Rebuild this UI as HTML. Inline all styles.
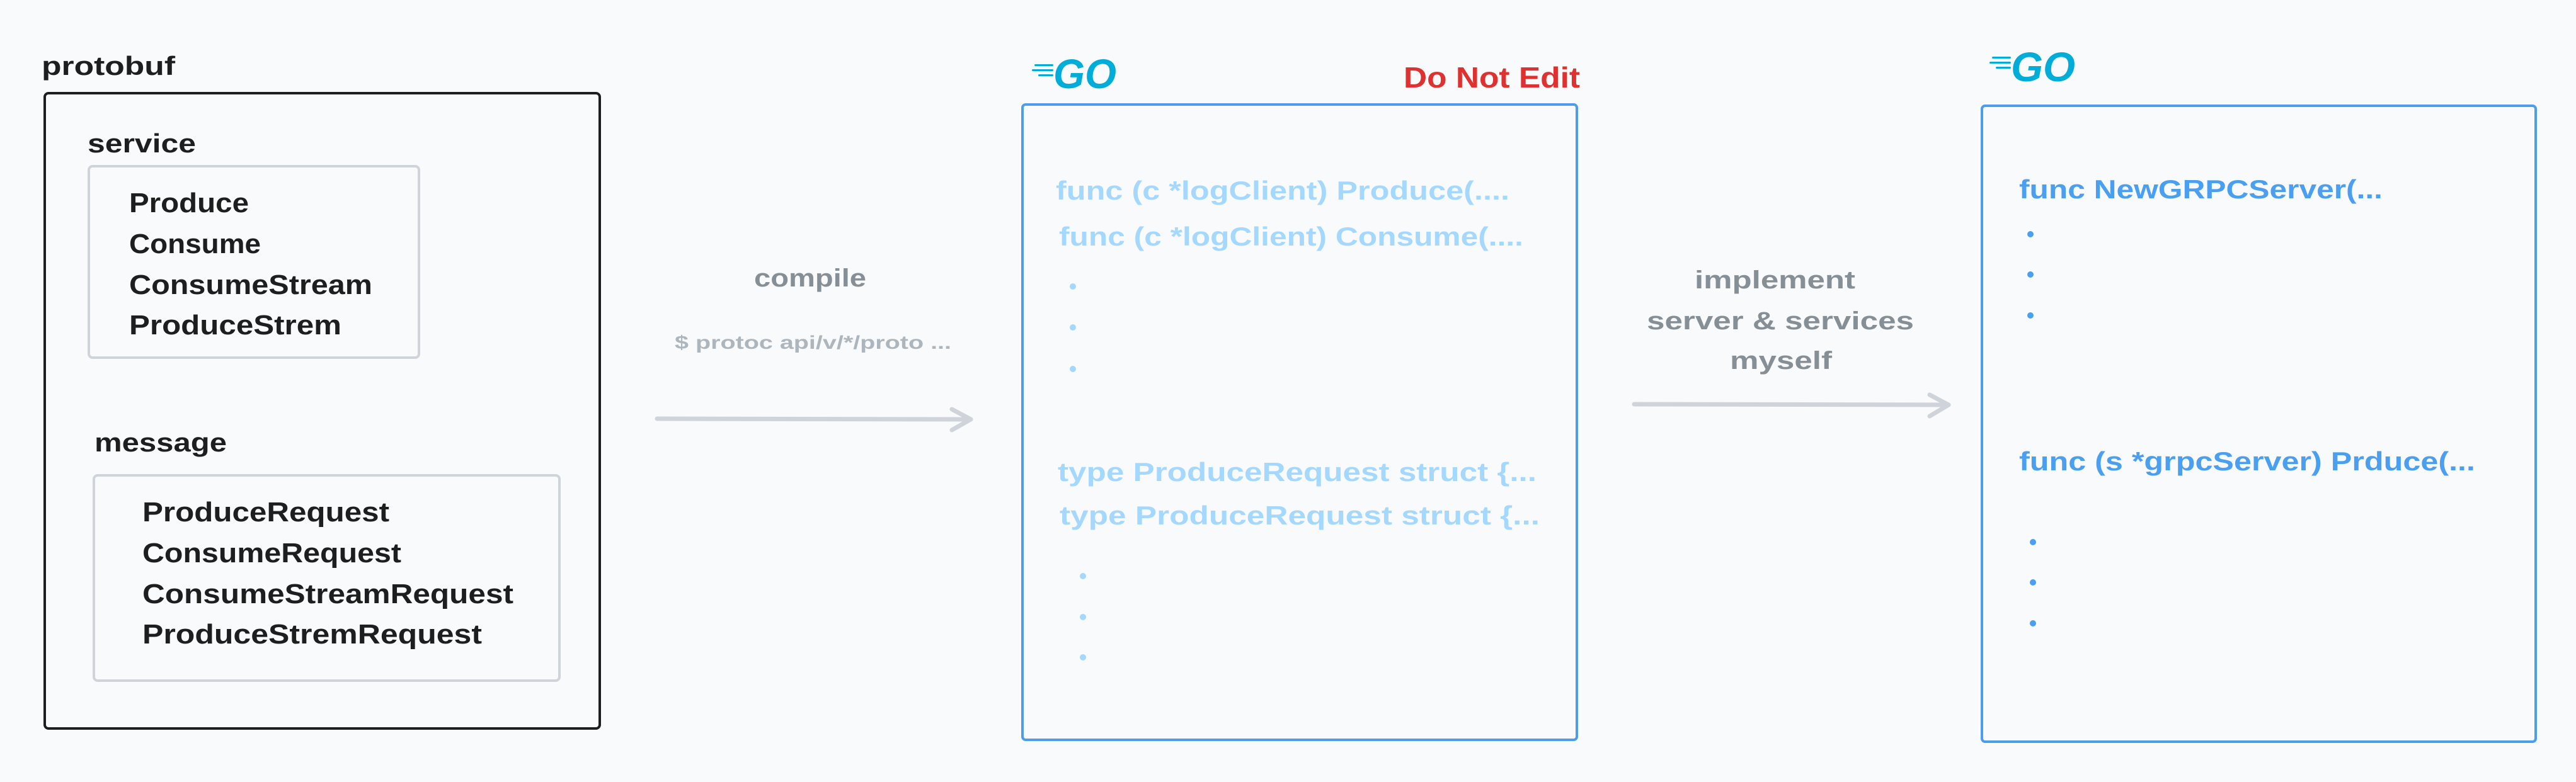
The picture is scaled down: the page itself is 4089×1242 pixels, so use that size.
<!DOCTYPE html>
<html><head><meta charset="utf-8"><style>
html,body{margin:0;padding:0;background:#f9fafb;}
svg{display:block;}
text{font-family:"Liberation Sans",sans-serif;font-weight:bold;}
</style></head><body>
<svg width="4089" height="1242" viewBox="0 0 4089 1242" xmlns="http://www.w3.org/2000/svg">
<rect width="4089" height="1242" fill="#f9fafb"/>

<!-- protobuf -->
<text x="66" y="119" font-size="42" fill="#1e1e1e" textLength="212" lengthAdjust="spacingAndGlyphs">protobuf</text>
<rect x="71" y="148" width="881" height="1009" rx="6" fill="none" stroke="#1e1e1e" stroke-width="4"/>

<text x="139" y="242" font-size="42" fill="#1e1e1e" textLength="172" lengthAdjust="spacingAndGlyphs">service</text>
<rect x="141" y="264" width="524" height="304" rx="6" fill="none" stroke="#ced4da" stroke-width="4"/>
<g font-size="44" fill="#1e1e1e">
<text x="205" y="337" textLength="190" lengthAdjust="spacingAndGlyphs">Produce</text>
<text x="205" y="402" textLength="209" lengthAdjust="spacingAndGlyphs">Consume</text>
<text x="205" y="467" textLength="386" lengthAdjust="spacingAndGlyphs">ConsumeStream</text>
<text x="205" y="531" textLength="337" lengthAdjust="spacingAndGlyphs">ProduceStrem</text>
</g>

<text x="150" y="717" font-size="42" fill="#1e1e1e" textLength="210" lengthAdjust="spacingAndGlyphs">message</text>
<rect x="149" y="755" width="739" height="326" rx="6" fill="none" stroke="#ced4da" stroke-width="4"/>
<g font-size="44" fill="#1e1e1e">
<text x="226" y="828" textLength="392" lengthAdjust="spacingAndGlyphs">ProduceRequest</text>
<text x="226" y="893" textLength="411" lengthAdjust="spacingAndGlyphs">ConsumeRequest</text>
<text x="226" y="958" textLength="589" lengthAdjust="spacingAndGlyphs">ConsumeStreamRequest</text>
<text x="226" y="1022" textLength="539" lengthAdjust="spacingAndGlyphs">ProduceStremRequest</text>
</g>

<!-- compile arrow -->
<text x="1197" y="455" font-size="40" fill="#868e96" textLength="178" lengthAdjust="spacingAndGlyphs">compile</text>
<text x="1071" y="554" font-size="30" fill="#adb5bd" textLength="439" lengthAdjust="spacingAndGlyphs">$ protoc api/v/*/proto ...</text>
<g stroke="#ced4da" stroke-width="7" stroke-linecap="round" stroke-linejoin="round" fill="none">
<path d="M1043 665 L1541 666"/>
<path d="M1511 650 L1541 666 L1511 683"/>
</g>

<!-- Go logo 1 -->
<g fill="#00add8">
<rect x="1642" y="102" width="30" height="3" rx="1.5"/>
<rect x="1638" y="110" width="34" height="3" rx="1.5"/>
<rect x="1648" y="118" width="24" height="3" rx="1.5"/>
<text x="1672" y="140" font-size="66" font-style="italic" font-weight="900" textLength="100" lengthAdjust="spacingAndGlyphs">GO</text>
</g>
<text x="2228" y="139" font-size="46" fill="#e03131" textLength="280" lengthAdjust="spacingAndGlyphs">Do Not Edit</text>

<!-- box 2 -->
<rect x="1623" y="166" width="880" height="1009" rx="5" fill="none" stroke="#4a9eed" stroke-width="4"/>
<g font-size="42" fill="#a5d8ff">
<text x="1676" y="317" textLength="720" lengthAdjust="spacingAndGlyphs">func (c *logClient) Produce(....</text>
<text x="1681" y="390" textLength="737" lengthAdjust="spacingAndGlyphs">func (c *logClient) Consume(....</text>
<text x="1679" y="764" textLength="760" lengthAdjust="spacingAndGlyphs">type ProduceRequest struct {...</text>
<text x="1682" y="833" textLength="762" lengthAdjust="spacingAndGlyphs">type ProduceRequest struct {...</text>
</g>
<g fill="#a5d8ff">
<circle cx="1703" cy="455" r="5"/><circle cx="1703" cy="520" r="5"/><circle cx="1703" cy="586" r="5"/>
<circle cx="1719" cy="915" r="5"/><circle cx="1719" cy="980" r="5"/><circle cx="1719" cy="1044" r="5"/>
</g>

<!-- implement arrow -->
<g font-size="40" fill="#868e96">
<text x="2690" y="458" textLength="255" lengthAdjust="spacingAndGlyphs">implement</text>
<text x="2614" y="523" textLength="424" lengthAdjust="spacingAndGlyphs">server &amp; services</text>
<text x="2746" y="586" textLength="162" lengthAdjust="spacingAndGlyphs">myself</text>
</g>
<g stroke="#ced4da" stroke-width="7" stroke-linecap="round" stroke-linejoin="round" fill="none">
<path d="M2594 642 L3093 643"/>
<path d="M3063 627 L3093 643 L3063 661"/>
</g>

<!-- Go logo 2 -->
<g fill="#00add8">
<rect x="3162" y="90" width="30" height="3" rx="1.5"/>
<rect x="3158" y="98" width="34" height="3" rx="1.5"/>
<rect x="3168" y="106" width="24" height="3" rx="1.5"/>
<text x="3192" y="129" font-size="66" font-style="italic" font-weight="900" textLength="102" lengthAdjust="spacingAndGlyphs">GO</text>
</g>

<!-- box 3 -->
<rect x="3146" y="168" width="879" height="1010" rx="5" fill="none" stroke="#4a9eed" stroke-width="4"/>
<g font-size="42" fill="#4a9ff0">
<text x="3205" y="315" textLength="577" lengthAdjust="spacingAndGlyphs">func NewGRPCServer(...</text>
<text x="3205" y="747" textLength="724" lengthAdjust="spacingAndGlyphs">func (s *grpcServer) Prduce(...</text>
</g>
<g fill="#4a9ff0">
<circle cx="3223" cy="372" r="5"/><circle cx="3223" cy="436" r="5"/><circle cx="3223" cy="501" r="5"/>
<circle cx="3227" cy="861" r="5"/><circle cx="3227" cy="925" r="5"/><circle cx="3227" cy="990" r="5"/>
</g>
</svg>
</body></html>
